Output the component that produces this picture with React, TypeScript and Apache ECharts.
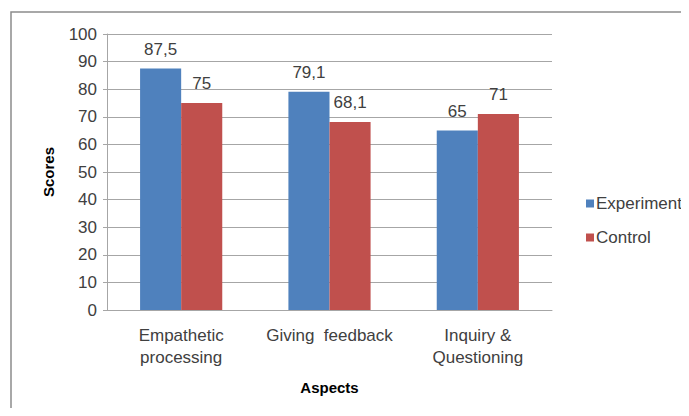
import React, { useEffect, useRef } from "react";
import * as echarts from "echarts";

const categories = ["Empathetic\nprocessing", "Giving  feedback", "Inquiry &\nQuestioning"];
const experimentScores = [87.5, 79.1, 65];
const controlScores = [75, 68.1, 71];
const seriesNames = ["Experiment", "Control"];
const yTicks = { min: 0, max: 100, interval: 10 };

const FONT = "'Liberation Sans', 'DejaVu Sans', sans-serif";
const TEXT = "#404040";

export default function App() {
  const ref = useRef<HTMLDivElement>(null);

  useEffect(() => {
    if (!ref.current) return;
    const chart = echarts.init(ref.current, undefined, { renderer: "svg" });
    const valueLabel = {
      show: true,
      position: "top" as const,
      distance: 11,
      color: TEXT,
      fontSize: 17,
      fontFamily: FONT,
      formatter: (p: any) => String(p.value).replace(".", ","),
    };
    chart.setOption({
      animation: false,
      backgroundColor: "#ffffff",
      textStyle: { fontFamily: FONT },
      graphic: [
        {
          type: "rect",
          shape: { x: 11, y: 12, width: 700, height: 401 },
          style: { fill: "none", stroke: "#8c8c8c", lineWidth: 1.5 },
          silent: true,
        },
      ],
      grid: { left: 107, top: 34, right: 137, bottom: 106, containLabel: false },
      legend: {
        orient: "vertical",
        left: 581,
        top: 190,
        itemWidth: 8,
        itemHeight: 8,
        itemGap: 17,
        icon: "rect",
        textStyle: { color: TEXT, fontSize: 17, fontFamily: FONT, padding: [0, 0, 0, -3] },
        data: seriesNames,
      },
      xAxis: {
        type: "category",
        data: categories,
        name: "Aspects",
        nameLocation: "middle",
        nameGap: 70,
        nameTextStyle: { fontWeight: "bold", fontSize: 15, color: "#000", fontFamily: FONT },
        axisLine: { lineStyle: { color: "#a6a6a6" } },
        axisTick: { show: false },
        axisLabel: {
          interval: 0,
          color: TEXT,
          fontSize: 17,
          margin: 14,
          lineHeight: 22,
          fontFamily: FONT,
        },
      },
      yAxis: {
        type: "value",
        min: yTicks.min,
        max: yTicks.max,
        interval: yTicks.interval,
        name: "Scores",
        nameLocation: "middle",
        nameGap: 51,
        nameRotate: 90,
        nameTextStyle: { fontWeight: "bold", fontSize: 15, color: "#000", fontFamily: FONT },
        axisLine: { show: true, lineStyle: { color: "#a6a6a6" } },
        axisTick: { show: true, length: 4, lineStyle: { color: "#a6a6a6" } },
        axisLabel: { color: TEXT, fontSize: 17, margin: 10, fontFamily: FONT },
        splitLine: { lineStyle: { color: "#a6a6a6" } },
      },
      series: [
        {
          name: seriesNames[0],
          type: "bar",
          data: experimentScores,
          barWidth: "27.7%",
          barGap: "0%",
          itemStyle: { color: "#4F81BD" },
          label: valueLabel,
        },
        {
          name: seriesNames[1],
          type: "bar",
          data: controlScores,
          barWidth: "27.7%",
          itemStyle: { color: "#C0504D" },
          label: valueLabel,
        },
      ],
    });
    return () => chart.dispose();
  }, []);

  return <div ref={ref} style={{ width: 689, height: 416, margin: -8 }} />;
}
